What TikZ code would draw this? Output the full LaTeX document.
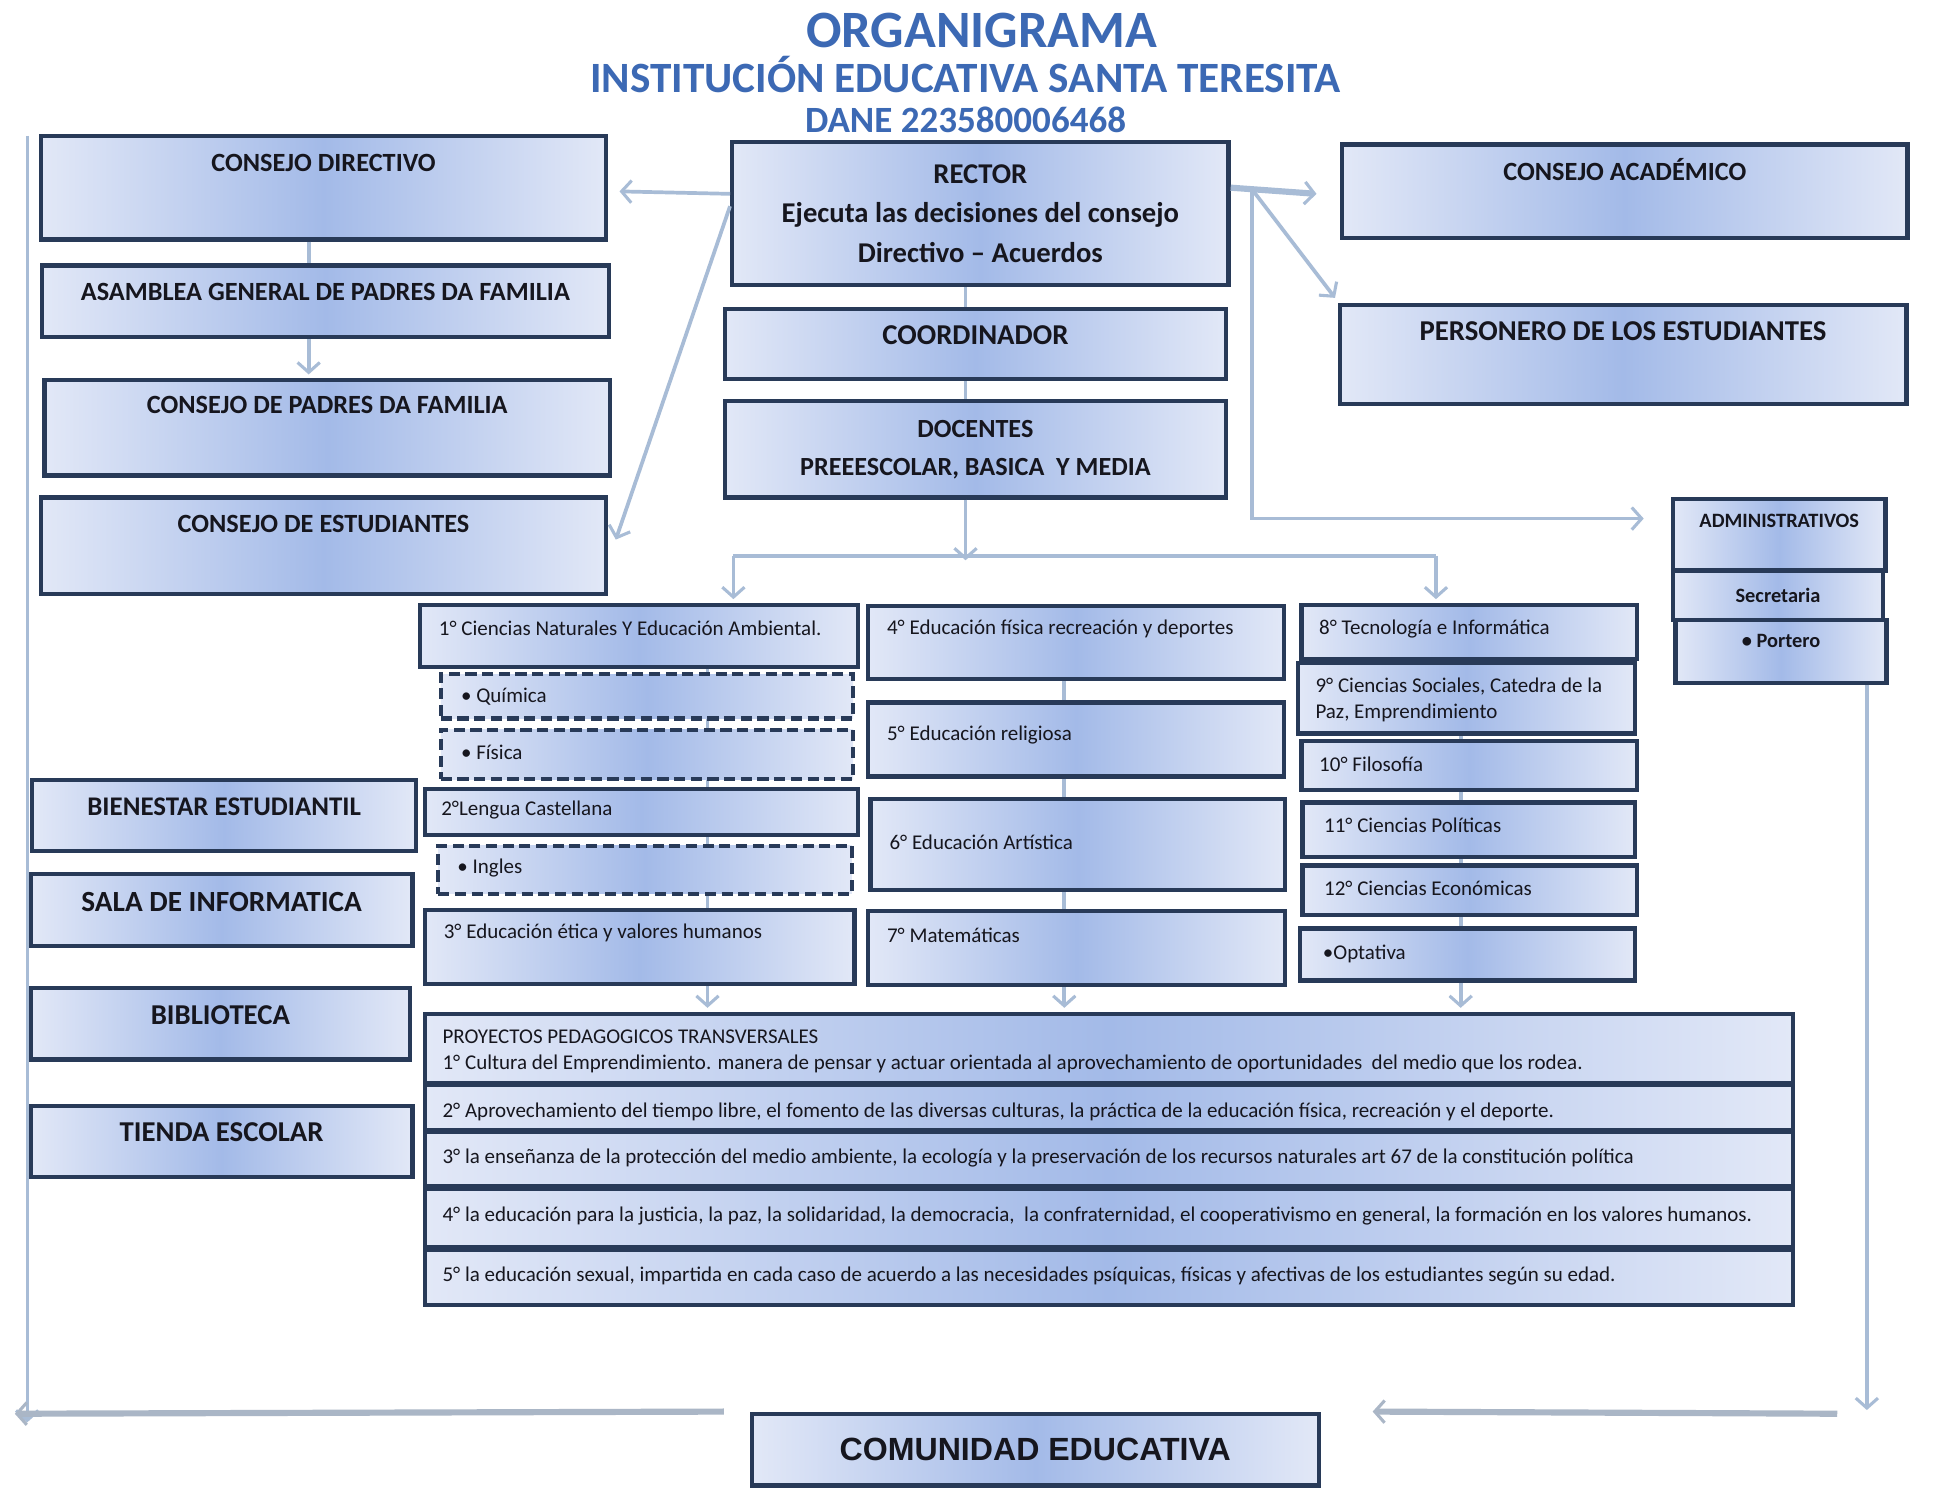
\documentclass[tikz,border=0pt]{standalone}
\usepackage{fontspec}
\setmainfont{Carlito}
\newfontfamily\widefont{Liberation Sans}
\usetikzlibrary{arrows.meta,backgrounds}
\definecolor{boxline}{RGB}{40,58,88}
\definecolor{boxlight}{RGB}{226,232,247}
\definecolor{boxmid}{RGB}{163,186,232}
\definecolor{ink}{RGB}{22,22,30}
\definecolor{linkc}{RGB}{168,188,214}
\definecolor{linkg}{RGB}{170,182,198}
\definecolor{titleblue}{RGB}{60,105,180}
\tikzstyle{box} = [draw=boxline, line width=3.5pt, rectangle, inner sep=0pt,
    left color=boxlight, right color=boxlight, middle color=boxmid]
\tikzstyle{dbox} = [box, dash pattern=on 9pt off 4.5pt]
\tikzstyle{title} = [text=titleblue, inner sep=0pt]
\tikzstyle{head} = [text=ink, inner sep=0pt, font=\bfseries\fontsize{21.3}{25}\selectfont]
\tikzstyle{bighead} = [head, font=\bfseries\fontsize{23.3}{27}\selectfont]
\tikzstyle{smallhead} = [head, font=\bfseries\fontsize{16.5}{19}\selectfont]
\tikzstyle{subj} = [text=ink, inner sep=0pt, align=left, font=\fontsize{17}{21}\selectfont]
\tikzstyle{proj} = [subj, font=\fontsize{17}{21}\selectfont]
\tikzstyle{link} = [draw=linkc, line width=3pt]
\tikzstyle{arrow} = [link, -{Straight Barb[length=8pt,width=18pt,line width=2.5pt]}]
\begin{document}
\begin{tikzpicture}[x=1pt,y=-1pt]
            \useasboundingbox (0,0) rectangle (1568,1218);
            % title
            \node[title, font=\bfseries\fontsize{42.5}{48}\selectfont] (org) at (795,25) {ORGANIGRAMA};
            \node[title, font=\bfseries\fontsize{35}{40}\selectfont] (inst) at (782,60) {INSTITUCIÓN EDUCATIVA SANTA TERESITA};
            \node[title, font=\bfseries\fontsize{30}{34}\selectfont] (dane) at (782,97) {DANE 223580006468};
            % left column
            \node[box, minimum width=458, minimum height=84,
                label={[head,anchor=center,yshift=-24]north:CONSEJO DIRECTIVO}] (cdir) at (262,152) {};
            \node[box, minimum width=459, minimum height=58,
                label={[head,anchor=center,yshift=-23]north:ASAMBLEA GENERAL DE PADRES DA FAMILIA}] (asam) at (263.5,244) {};
            \node[box, minimum width=458, minimum height=77,
                label={[head,anchor=center,yshift=-22]north:CONSEJO DE PADRES DA FAMILIA}] (cpad) at (265,346.5) {};
            \node[box, minimum width=458, minimum height=78,
                label={[head,anchor=center,yshift=-23]north:CONSEJO DE ESTUDIANTES}] (cest) at (262,442) {};
            % center column
            \node[box, minimum width=402, minimum height=116, align=center,
                font=\bfseries\fontsize{23.2}{32}\selectfont, text=ink]
                (rect) at (794,173) {RECTOR\\Ejecuta las decisiones del consejo\\Directivo – Acuerdos};
            \node[box, minimum width=406, minimum height=57,
                label={[bighead,anchor=center,yshift=-23]north:COORDINADOR}] (coord) at (790,278.5) {};
            \node[box, minimum width=406, minimum height=78, align=center,
                font=\bfseries\fontsize{21.2}{31}\selectfont, text=ink]
                (doc) at (790,364) {DOCENTES\\PREEESCOLAR, BASICA~ Y MEDIA};
            % right column
            \node[box, minimum width=458, minimum height=76,
                label={[head,anchor=center,yshift=-22]north:CONSEJO ACADÉMICO}] (cacad) at (1316,155) {};
            \node[box, minimum width=459, minimum height=80,
                label={[bighead,anchor=center,yshift=-23]north:PERSONERO DE LOS ESTUDIANTES}] (pers) at (1314.5,287) {};
            \node[box, minimum width=172, minimum height=58,
                label={[smallhead,anchor=center,yshift=-20]north:ADMINISTRATIVOS}] (adm) at (1441,433) {};
            \node[box, minimum width=170, minimum height=40, smallhead] (secr) at (1440,482) {Secretaria};
            \node[box, minimum width=171, minimum height=51,
                label={[smallhead,anchor=center,yshift=-19]north:• Portero}] (port) at (1442.5,527.5) {};
            % services
            \node[box, minimum width=311, minimum height=57,
                label={[head,font=\bfseries\fontsize{21.8}{25}\selectfont,anchor=center,yshift=-23]north:BIENESTAR ESTUDIANTIL}] (bien) at (181.5,660.5) {};
            \node[box, minimum width=309, minimum height=58,
                label={[bighead,font=\bfseries\fontsize{23.7}{27}\selectfont,anchor=center,yshift=-24]north:SALA DE INFORMATICA}] (sala) at (179.5,737) {};
            \node[box, minimum width=307, minimum height=58,
                label={[bighead,anchor=center,yshift=-24]north:BIBLIOTECA}] (bibl) at (178.5,829) {};
            \node[box, minimum width=309, minimum height=57,
                label={[bighead,anchor=center,yshift=-23]north:TIENDA ESCOLAR}] (tien) at (179.5,924.5) {};
            % areas, first column
            \node[box, minimum width=355, minimum height=50,
                label={[subj,anchor=west,xshift=17,yshift=-21]north west:1° Ciencias Naturales Y Educación Ambiental.}] (n1) at (517.5,515) {};
            \node[dbox, minimum width=334, minimum height=36,
                label={[subj,anchor=west,xshift=18,yshift=-20]north west:• Química}] (qui) at (524,564) {};
            \node[dbox, minimum width=334, minimum height=40,
                label={[subj,anchor=west,xshift=18,yshift=-20]north west:• Física}] (fis) at (524,611) {};
            \node[box, minimum width=351, minimum height=37,
                label={[subj,anchor=west,xshift=15,yshift=-19]north west:2°Lengua Castellana}] (n2) at (519.5,657.5) {};
            \node[dbox, minimum width=335, minimum height=39,
                label={[subj,anchor=west,xshift=17,yshift=-20]north west:• Ingles}] (ing) at (522.5,704.5) {};
            \node[box, minimum width=348, minimum height=60,
                label={[subj,anchor=west,xshift=17,yshift=-20]north west:3° Educación ética y valores humanos}] (n3) at (518,767) {};
            % second column
            \node[box, minimum width=337, minimum height=59,
                label={[subj,anchor=west,xshift=17,yshift=-20]north west:4° Educación física recreación y deportes}] (n4) at (871.5,520.5) {};
            \node[box, minimum width=337, minimum height=60,
                label={[subj,anchor=west,xshift=17,yshift=-28]north west:5° Educación religiosa}] (n5) at (871.5,599) {};
            \node[box, minimum width=336, minimum height=74,
                label={[subj,anchor=west,xshift=17,yshift=-37]north west:6° Educación Artística}] (n6) at (873,684) {};
            \node[box, minimum width=338, minimum height=60,
                label={[subj,anchor=west,xshift=17,yshift=-21]north west:7° Matemáticas}] (n7) at (872,768) {};
            % third column
            \node[box, minimum width=272, minimum height=44,
                label={[subj,anchor=west,xshift=16,yshift=-21]north west:8° Tecnología e Informática}] (n8) at (1190,512) {};
            \node[box, minimum width=273, minimum height=57,
                label={[subj,anchor=north west,xshift=16,yshift=-14]north west:9° Ciencias Sociales, Catedra de la\\Paz, Emprendimiento}] (n9) at (1187.5,565.5) {};
            \node[box, minimum width=272, minimum height=40,
                label={[subj,anchor=west,xshift=16,yshift=-21]north west:10° Filosofía}] (n10) at (1190,620) {};
            \node[box, minimum width=269, minimum height=44,
                label={[subj,anchor=west,xshift=19,yshift=-20]north west:11° Ciencias Políticas}] (n11) at (1189.5,672) {};
            \node[box, minimum width=271, minimum height=40,
                label={[subj,anchor=west,xshift=19,yshift=-20]north west:12° Ciencias Económicas}] (n12) at (1190.5,721) {};
            \node[box, minimum width=271, minimum height=42,
                label={[subj,anchor=west,xshift=20,yshift=-22]north west:•Optativa}] (nopt) at (1188.5,773) {};
            % proyectos
            \node[box, minimum width=1108, minimum height=56,
                label={[proj,anchor=north west,xshift=16,yshift=-15]north west:PROYECTOS PEDAGOGICOS TRANSVERSALES\\1° Cultura del Emprendimiento. manera de pensar y actuar orientada al aprovechamiento de oportunidades~ del medio que los rodea.}] (p1) at (898,849) {};
            \node[box, minimum width=1108, minimum height=36,
                label={[proj,anchor=west,xshift=16,yshift=-23]north west:2° Aprovechamiento del tiempo libre, el fomento de las diversas culturas, la práctica de la educación física, recreación y el deporte.}] (p2) at (898,897) {};
            \node[box, minimum width=1108, minimum height=44,
                label={[proj,anchor=west,xshift=16,yshift=-23]north west:3° la enseñanza de la protección del medio ambiente, la ecología y la preservación de los recursos naturales art 67 de la constitución política}] (p3) at (898,939) {};
            \node[box, minimum width=1108, minimum height=47,
                label={[proj,anchor=west,xshift=16,yshift=-24]north west:4° la educación para la justicia, la paz, la solidaridad, la democracia,~ la confraternidad, el cooperativismo en general, la formación en los valores humanos.}] (p4) at (898,986.5) {};
            \node[box, minimum width=1108, minimum height=45,
                label={[proj,anchor=west,xshift=16,yshift=-23]north west:5° la educación sexual, impartida en cada caso de acuerdo a las necesidades psíquicas, físicas y afectivas de los estudiantes según su edad.}] (p5) at (898,1034.5) {};
            % comunidad
            \node[box, minimum width=459, minimum height=58, text=ink,
                font=\widefont\bfseries\fontsize{26}{30}\selectfont] (com) at (838.5,1174) {COMUNIDAD EDUCATIVA};
            % connectors
            \coordinate (jr) at ([xshift=17,yshift=20]rect.east);
            \coordinate (ltop) at (22,110);
            \coordinate (lbot) at (22,1152);
            \coordinate (lend) at (12,1145);
            \coordinate (rstart) at (1488,1145);
            \coordinate (rbot) at (1512,1142);
            \draw[arrow] ([yshift=16]rect.west) -- ([xshift=9,yshift=-3]cdir.east);
            \draw[arrow] ([yshift=6]rect.west) -- ([xshift=6,yshift=5]cest.east);
            \draw[arrow, line width=5pt] ([yshift=21]rect.east) -- ([xshift=-19,yshift=-2]cacad.west);
            \draw[arrow] (jr) -- ([xshift=-2,yshift=4]pers.north west);
            \draw[arrow] (jr) |- ([xshift=-22,yshift=13]adm.west);
            \draw[link] ([xshift=-12]cdir.south) -- ([xshift=-13.5]asam.north);
            \draw[arrow] ([xshift=-13.5]asam.south) -- ([xshift=-15,yshift=3]cpad.north);
            \draw[link] ([xshift=-12]rect.south) -- ([xshift=-8]coord.north);
            \draw[link] ([xshift=-8]coord.south) -- ([xshift=-8]doc.north);
            \draw[arrow] ([xshift=-8]doc.south) -- ([xshift=-8,yshift=-49]doc.south);
            \draw[link] ([xshift=76.5,yshift=38]n1.north) -- ([xshift=-27,yshift=38]n8.north);
            \draw[arrow] ([xshift=76.5,yshift=38]n1.north) -- ([xshift=76.5,yshift=3]n1.north);
            \draw[arrow] ([xshift=-27,yshift=38]n8.north) -- ([xshift=-27,yshift=3]n8.north);
            \draw[arrow, line width=2.5pt] (ltop) -- (lbot);
            \draw[arrow, draw=linkg, line width=5pt] ([xshift=-21]com.north west) -- (lend);
            \draw[arrow, draw=linkg, line width=5pt] (rstart) -- ([xshift=42]com.north east);
            \draw[arrow] ([xshift=69.5]port.south) -- (rbot);
            \begin{scope}[on background layer]
                \fill[white] (0,0) rectangle (1568,1218);
                \draw[arrow] ([xshift=55.5]n1.south) -- ([xshift=-325,yshift=3]p1.north);
                \draw[arrow] ([xshift=-9.5]n4.south) -- ([xshift=-36,yshift=3]p1.north);
                \draw[arrow] ([xshift=-7]n8.south) -- ([xshift=285,yshift=3]p1.north);
            \end{scope}
        \end{tikzpicture}
\end{document}
